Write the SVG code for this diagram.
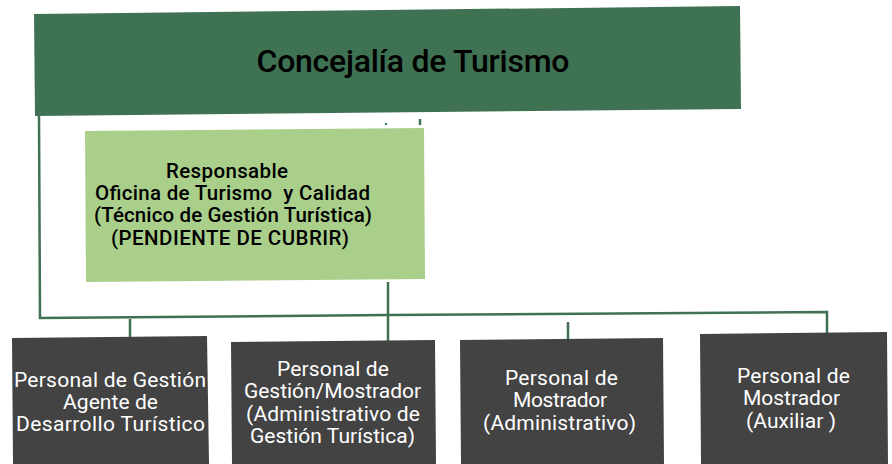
<svg xmlns="http://www.w3.org/2000/svg" width="892" height="464" viewBox="0 0 892 464">
<style>
.top{fill:#3f7153}
.mid{fill:#a9cf8b}
.bot{fill:#434343}
.t{font-family:Roboto,"Liberation Sans",sans-serif;text-anchor:middle}
.tt{font-size:32px;fill:#000;font-weight:500}
.mt{font-size:20.5px;fill:#000;font-weight:500}
.bt{font-size:21px;fill:#fff}
.c{fill:none;stroke:#3f7153;stroke-width:2.5}
</style>
<rect width="892" height="464" fill="#fff"/>
<g id="connectors">
<polyline class="c" points="39,116 40,318 388,315 827,312 827,334"/>
<line class="c" x1="388" y1="282" x2="388" y2="342"/>
<line class="c" x1="130" y1="319" x2="130" y2="337"/>
<line class="c" x1="568" y1="322" x2="568" y2="339"/>
<line class="c" x1="420" y1="119" x2="420" y2="125"/>
<rect x="385" y="123" width="2" height="2" fill="#3f7153"/>
</g>
<g id="concejalia">
<polygon class="top" points="34,14 740,6 741,109 35,116"/>
<text class="t tt" x="413" y="72" textLength="313">Concejalía de Turismo</text>
</g>
<g id="responsable">
<polygon class="mid" points="85,131 424,128 425,279 86,282"/>
<text class="t mt" x="227" y="178" textLength="122">Responsable</text>
<text class="t mt" x="232.5" y="200" textLength="275" xml:space="preserve">Oficina de Turismo  y Calidad</text>
<text class="t mt" x="233" y="222" textLength="278">(Técnico de Gestión Turística)</text>
<text class="t mt" x="230" y="245" textLength="238">(PENDIENTE DE CUBRIR)</text>
</g>
<g id="gestion-agente">
<polygon class="bot" points="12,338 207,336 209,464 13,464"/>
<text class="t bt" x="110" y="387" textLength="192">Personal de Gestión</text>
<text class="t bt" x="110.5" y="409" textLength="95">Agente de</text>
<text class="t bt" x="110.5" y="431" textLength="189">Desarrollo Turístico</text>
</g>
<g id="gestion-mostrador">
<polygon class="bot" points="231,342 435,340 436,464 232,464"/>
<text class="t bt" x="333" y="376" textLength="112">Personal de</text>
<text class="t bt" x="332.5" y="398" textLength="177">Gestión/Mostrador</text>
<text class="t bt" x="333" y="421" textLength="174">(Administrativo de</text>
<text class="t bt" x="332.5" y="443" textLength="165">Gestión Turística)</text>
</g>
<g id="mostrador-admin">
<polygon class="bot" points="460,340 663,338 664,464 461,464"/>
<text class="t bt" x="561.5" y="385" textLength="113">Personal de</text>
<text class="t bt" x="560" y="407" textLength="94">Mostrador</text>
<text class="t bt" x="559.5" y="430" textLength="153">(Administrativo)</text>
</g>
<g id="mostrador-aux">
<polygon class="bot" points="700,334 887,332 888,464 701,464"/>
<text class="t bt" x="793.5" y="383" textLength="113">Personal de</text>
<text class="t bt" x="791.5" y="405" textLength="97">Mostrador</text>
<text class="t bt" x="791" y="428" textLength="90">(Auxiliar )</text>
</g>
</svg>
